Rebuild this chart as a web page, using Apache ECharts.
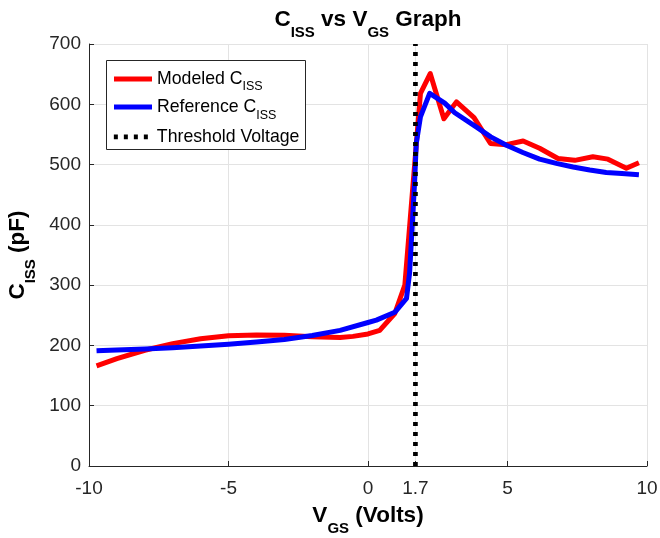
<!DOCTYPE html>
<html>
<head>
<meta charset="utf-8">
<script src="https://cdn.jsdelivr.net/npm/echarts@6/dist/echarts.min.js"></script>
<style>
  html, body { margin: 0; padding: 0; background: #fff; }
  #chart { width: 660px; height: 538px; }
</style>
</head>
<body>
<div id="chart"></div>
<script>
// Input capacitance vs gate-source voltage
const vgsModeled = [-9.73, -9.0, -8.0, -7.0, -6.0, -5.0, -4.0, -3.0, -2.0, -1.0, -0.54, 0.0, 0.42,
  0.96, 1.32, 1.88, 2.23, 2.72, 3.17, 3.80, 4.39, 4.96, 5.56, 6.15, 6.81, 7.41, 8.06, 8.60, 9.26, 9.71];
const cissModeled = [166, 178, 192, 203, 211, 216, 217.5, 217, 214.5, 213, 215, 219, 225,
  253, 300, 618, 651, 576, 604, 578, 535, 533, 539, 527, 510, 507, 513, 509, 494, 503];

const vgsReference = [-9.73, -9.0, -8.0, -7.0, -6.0, -5.0, -4.0, -3.0, -2.0, -1.0, 0.0, 0.30, 0.96,
  1.38, 1.49, 1.59, 1.67, 1.73, 1.88, 2.21, 2.75, 3.11, 3.89, 4.40, 4.96, 5.55, 6.15, 6.75, 7.35, 7.95, 8.54, 9.10, 9.71];
const cissReference = [191, 192.5, 194, 196, 199, 202, 205.5, 210, 216.5, 225, 238, 242, 255,
  278, 320, 402, 470, 535, 579, 618, 602, 586, 562, 546, 532, 520, 509, 502, 496, 491, 487, 485, 483];

const thresholdVgs = [1.7, 1.7];
const thresholdCiss = [0, 700];

const xTickValues = [-10, -5, 0, 1.7, 5, 10];

const FONT = '"Liberation Sans", Arial, Helvetica, sans-serif';
const AXIS_COLOR = '#262626';

function pairs(xs, ys) { return xs.map((x, i) => [x, ys[i]]); }

const legendRich = {
  m: { fontFamily: FONT, fontSize: 17.7, lineHeight: 18, color: '#000' },
  s: { fontFamily: FONT, fontSize: 12.5, lineHeight: 13, color: '#000', padding: [16, 0, 0, 0] }
};

const boldRich = {
  m: { fontFamily: FONT, fontSize: 22.5, lineHeight: 22, fontWeight: 'bold', color: '#000' },
  s: { fontFamily: FONT, fontSize: 15, lineHeight: 15, fontWeight: 'bold', color: '#000', padding: [26, 0, 0, 0] }
};

function legendEntry(name, label, top) {
  return {
    data: [name],
    top: top,
    left: 111.5,
    padding: 0,
    itemWidth: 38,
    itemHeight: 14,
    selectedMode: false,
    itemStyle: { opacity: 0 },
    lineStyle: { width: 'inherit' },
    formatter: () => label,
    textStyle: { rich: legendRich },
    z: 5
  };
}

const chart = echarts.init(document.getElementById('chart'), null, { renderer: 'canvas' });

chart.setOption({
  animation: false,
  backgroundColor: '#fff',
  title: {
    text: '{m|C}{s|ISS}{m| vs V}{s|GS}{m| Graph}',
    left: 368,
    top: 9,
    padding: 0,
    textAlign: 'center',
    textStyle: { rich: boldRich }
  },
  grid: {
    left: 89, right: 13, top: 44, bottom: 72,
    outerBoundsMode: 'none'
  },
  graphic: [{
    type: 'rect',
    z: 4,
    shape: { x: 106.5, y: 60.5, width: 199, height: 89 },
    style: { fill: '#fff', stroke: AXIS_COLOR, lineWidth: 1 }
  }],
  legend: [
    legendEntry('Modeled', '{m|Modeled C}{s|ISS}', 64.4),
    legendEntry('Reference', '{m|Reference C}{s|ISS}', 92.6),
    legendEntry('Threshold Voltage', '{m|Threshold Voltage}', 127.9)
  ],
  xAxis: {
    type: 'value',
    min: -10, max: 10, interval: 5,
    name: '{m|V}{s|GS}{m| (Volts)}',
    nameLocation: 'middle',
    nameGap: 38.5,
    nameMoveOverlap: false,
    nameTextStyle: { rich: boldRich },
    axisLine: { onZero: false, lineStyle: { color: AXIS_COLOR, width: 1 } },
    axisTick: { inside: true, length: 5, customValues: xTickValues, lineStyle: { color: AXIS_COLOR } },
    axisLabel: {
      customValues: xTickValues,
      margin: 13,
      fontFamily: FONT, fontSize: 19, color: AXIS_COLOR,
      formatter: v => String(v)
    },
    splitLine: { show: true, lineStyle: { color: '#e3e3e3', width: 1 } }
  },
  yAxis: {
    type: 'value',
    min: 0, max: 700, interval: 100,
    name: '{m|C}{s|ISS}{m| (pF)}',
    nameLocation: 'middle',
    nameGap: 48,
    nameTextStyle: { rich: boldRich },
    axisLine: { show: true, onZero: false, lineStyle: { color: AXIS_COLOR, width: 1 } },
    axisTick: { show: true, inside: true, length: 5, lineStyle: { color: AXIS_COLOR } },
    axisLabel: { margin: 8, fontFamily: FONT, fontSize: 19, color: AXIS_COLOR },
    splitLine: { show: true, lineStyle: { color: '#e3e3e3', width: 1 } }
  },
  series: [
    {
      name: 'Modeled',
      type: 'line',
      data: pairs(vgsModeled, cissModeled),
      showSymbol: false,
      color: '#ff0000',
      lineStyle: { color: '#ff0000', width: 5, join: 'round' },
      z: 2
    },
    {
      name: 'Reference',
      type: 'line',
      data: pairs(vgsReference, cissReference),
      showSymbol: false,
      color: '#0000ff',
      lineStyle: { color: '#0000ff', width: 5, join: 'round' },
      z: 2
    },
    {
      name: 'Threshold Voltage',
      type: 'line',
      data: pairs(thresholdVgs, thresholdCiss),
      showSymbol: false,
      color: '#000',
      lineStyle: { color: '#000', width: 4.7, type: [4, 6], cap: 'butt' },
      z: 2
    }
  ]
});
</script>
</body>
</html>
